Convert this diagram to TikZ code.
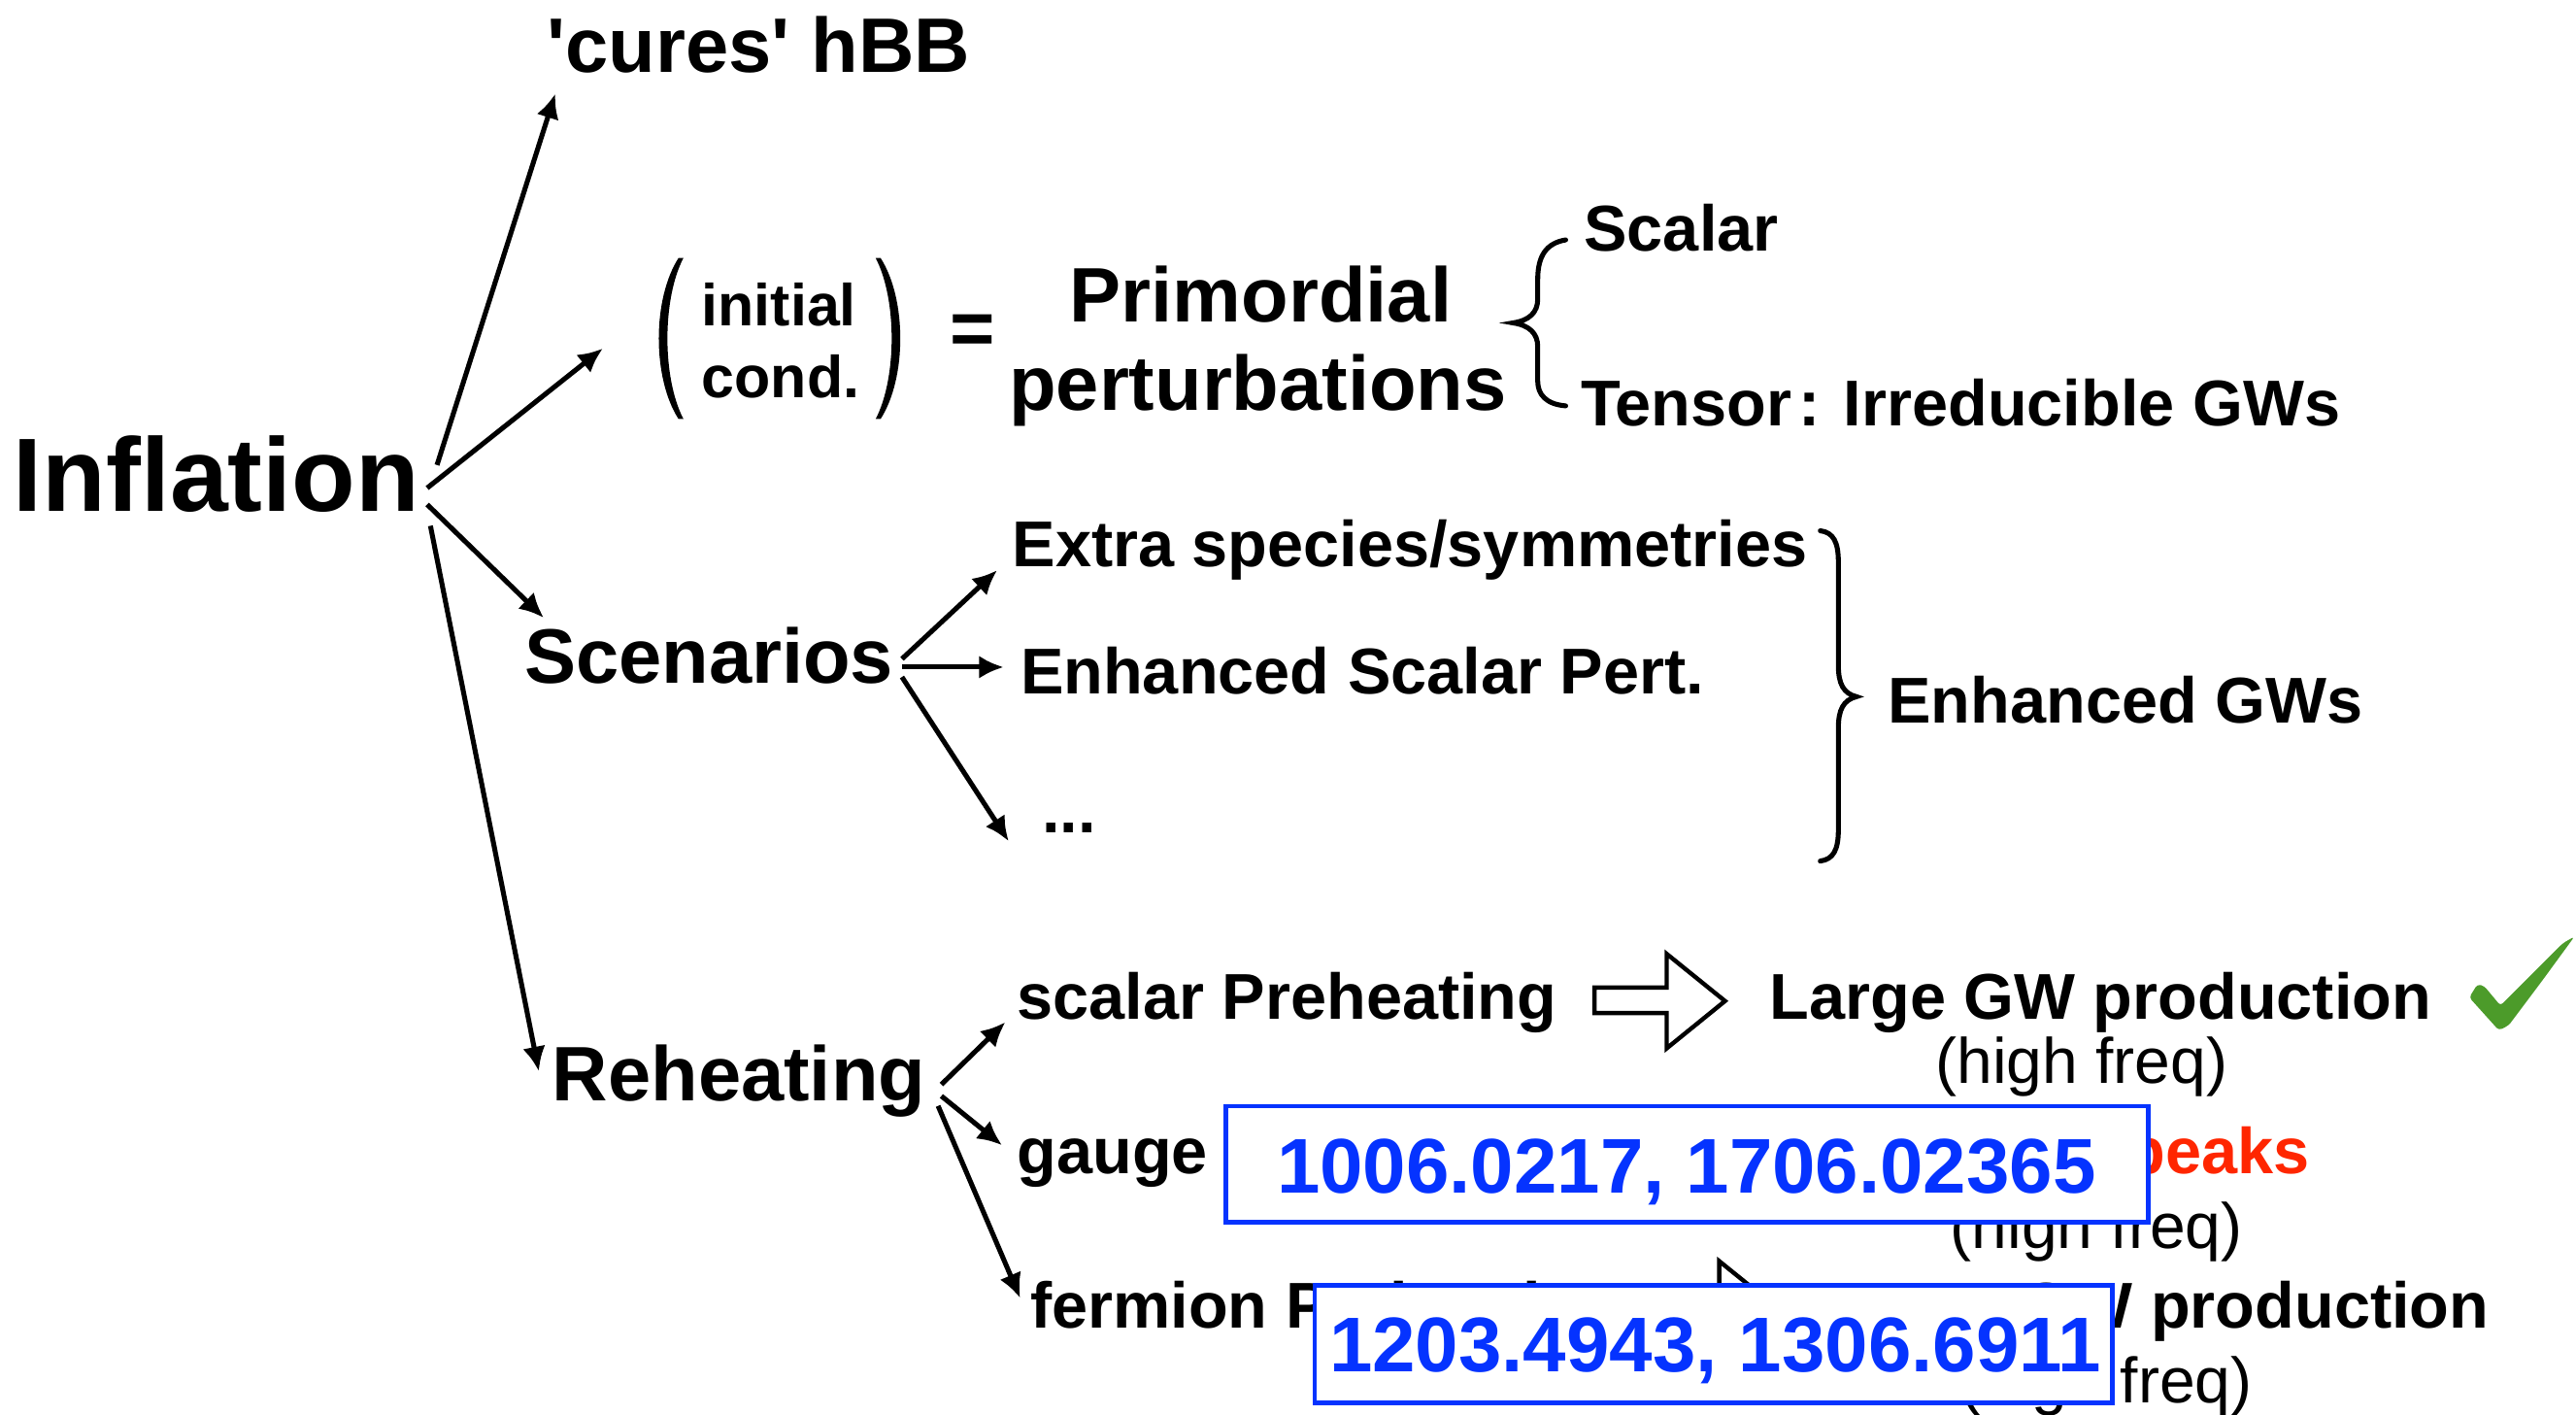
\documentclass[tikz,border=0pt]{standalone}
\usepackage{fontspec}
\setmainfont{Liberation Sans}
\usetikzlibrary{arrows.meta}
\definecolor{boxblue}{RGB}{5,51,255}
\definecolor{peakred}{RGB}{255,38,0}
\definecolor{checkgreen}{RGB}{76,155,42}
\begin{document}
\begin{tikzpicture}[x=1pt,y=-1pt,
  txt/.style={inner sep=0pt, anchor=base west},
  tHuge/.style={txt, font=\bfseries\fontsize{63.5}{70}\selectfont},
  tLarge/.style={txt, font=\bfseries\fontsize{47}{54}\selectfont},
  tMed/.style={txt, font=\bfseries\fontsize{39.4}{45}\selectfont},
  tSmall/.style={txt, font=\bfseries\fontsize{36}{42}\selectfont},
  tNote/.style={txt, font=\fontsize{39}{45}\selectfont},
  tBlue/.style={txt, text=boxblue, font=\bfseries\fontsize{47.2}{52}\selectfont},
  arr/.style={line width=3pt, -{Latex[length=15pt,width=14pt]}},
  hollow/.style={draw=black, fill=white, line width=2.6pt, line join=miter},
  bracket/.style={line width=3pt, line cap=round},
  bluebox/.style={draw=boxblue, fill=white, line width=2.6pt, inner sep=0pt}]

\useasboundingbox (0,0) rectangle (1568,861);
\clip (0,0) rectangle (1568,861);

% ---------- main tree ----------
\node[tHuge] (infl) at (8,311) {Inflation};
\node[tLarge] (cures) at (333,44) {\textquotesingle cures\textquotesingle\ hBB};

% initial conditions in parentheses
\node[tSmall] (init) at (427,198) {initial};
\node[tSmall] (cond) at (427,242) {cond.};
\fill (413,157) .. controls (397,182) and (397,230) .. (413,255)
  -- (416,255) .. controls (403,230) and (403,182) .. (416,157) -- cycle;
\fill (536,157) .. controls (552,182) and (552,230) .. (536,255)
  -- (533,255) .. controls (546,230) and (546,182) .. (533,157) -- cycle;
\node[tLarge] (eq) at (578,216) {=};
\node[tLarge] (prim) at (651,196) {Primordial};
\node[tLarge] (pert) at (614,250) {perturbations};

% left brace: scalar / tensor
\draw[bracket] (953,146) .. controls (941,148) and (936,156) .. (936,170)
  -- (936,182) .. controls (936,190) and (931,195) .. (921,196.5)
  .. controls (931,198) and (936,203) .. (936,211)
  -- (936,232) .. controls (936,240) and (941,246) .. (953,247);
\node[tMed] (scal) at (964,153) {Scalar};
\node[tMed] (tens) at (962,259) {Tensor\hspace{4pt}: Irreducible GWs};

% scenarios
\node[tLarge] (scen) at (319,416) {Scenarios};
\node[tMed] (extra) at (616,345) {Extra species/symmetries};
\node[tMed] (enh) at (621,422) {Enhanced Scalar Pert.};
\node[tMed] (dots) at (634,507) {...};
\draw[bracket] (1108,323) .. controls (1116,324) and (1119,330) .. (1119,342)
  -- (1119,405) .. controls (1119,416) and (1122,422) .. (1130,424)
  .. controls (1122,426) and (1119,432) .. (1119,443)
  -- (1119,505) .. controls (1119,517) and (1116,523) .. (1108,524);
\node[tMed] (enhgw) at (1149,440) {Enhanced GWs};

% reheating
\node[tLarge] (reh) at (336,670) {Reheating};
\node[tMed] (scpre) at (619,620) {scalar Preheating};
\node[tMed] (lgw1) at (1077,620) {Large GW production};
\node[tNote] (hf1) at (1178,659) {(high freq)};
\node[tMed] (gauge) at (619,714) {gauge Preheating};
\node[tMed, text=peakred] (peaks) at (1294,714) {peaks};
\node[tNote] (hf2) at (1187,760) {(high freq)};
\node[tMed] (ferm) at (627,808) {fermion Preheating};
\node[tMed] (lgw3) at (1112,808) {Large GW production};
\node[tNote] (hf3) at (1193,854) {(high freq)};

% hollow implication arrows
\draw[hollow] (970.5,601) -- (1014.5,601) -- (1014.5,580.5) -- (1050,609.2)
  -- (1014.5,638) -- (1014.5,616.5) -- (970.5,616.5) -- cycle;
\begin{scope}[shift={(32,187)}]
\draw[hollow] (970.5,601) -- (1014.5,601) -- (1014.5,580.5) -- (1050,609.2)
  -- (1014.5,638) -- (1014.5,616.5) -- (970.5,616.5) -- cycle;
\end{scope}

% check mark
\fill[checkgreen, rounded corners=2pt] (1503,607) -- (1508,599) -- (1512,600)
  -- (1522,612) -- (1560,574) -- (1567,570) -- (1548,596) -- (1527,624)
  -- (1521,627) -- cycle;

% ---------- connectors ----------
\coordinate (iA) at (266,283); \coordinate (iAt) at (338,57);
\coordinate (iB) at (260,297); \coordinate (iBt) at (367,212);
\coordinate (iC) at (260,307); \coordinate (iCt) at (331,376);
\coordinate (iD) at (262,320); \coordinate (iDt) at (328,652);
\draw[arr] (iA) -- (iAt);
\draw[arr] (iB) -- (iBt);
\draw[arr] (iC) -- (iCt);
\draw[arr] (iD) -- (iDt);

\coordinate (sA) at (549,401); \coordinate (sAt) at (607,347);
\coordinate (sB) at (549,406); \coordinate (sBt) at (611,406);
\coordinate (sC) at (549,412); \coordinate (sCt) at (614,512);
\draw[arr] (sA) -- (sAt);
\draw[arr] (sB) -- (sBt);
\draw[arr] (sC) -- (sCt);

\coordinate (rA) at (573,660); \coordinate (rAt) at (612,622);
\coordinate (rB) at (573,667); \coordinate (rBt) at (610,697);
\coordinate (rC) at (571,673); \coordinate (rCt) at (621,790);
\draw[arr] (rA) -- (rAt);
\draw[arr] (rB) -- (rBt);
\draw[arr] (rC) -- (rCt);

% ---------- reference boxes ----------
\node[bluebox, minimum width=561.5pt, minimum height=70.5pt] (refA) at (1027,708.5) {};
\node[tBlue] (refAtxt) at (777,726) {1006.0217, 1706.02365};
\node[bluebox, minimum width=485.5pt, minimum height=71.5pt] (refB) at (1043,818) {};
\node[tBlue] (refBtxt) at (809,835) {1203.4943, 1306.6911};
\end{tikzpicture}
\end{document}
